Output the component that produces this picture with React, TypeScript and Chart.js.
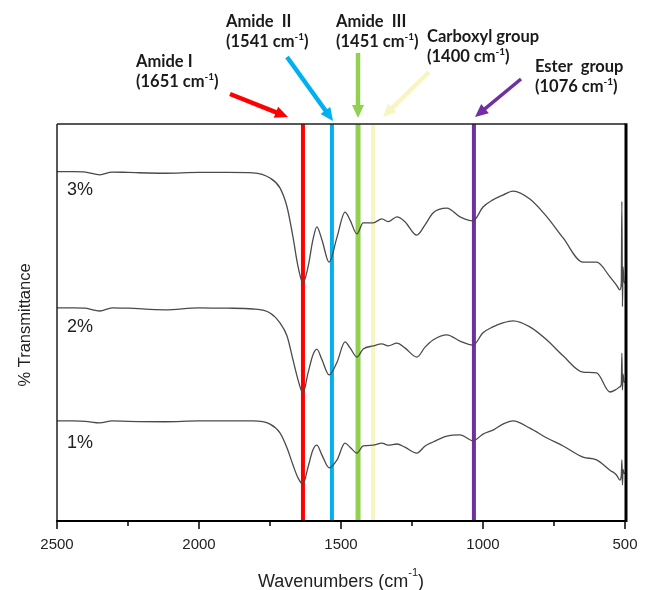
import React, { useEffect, useRef } from "react";
import { Chart, registerables } from "chart.js";

Chart.register(...registerables);

// ---- data (wavenumber in cm^-1, transmittance in arbitrary offset units) ----
const wavenumbers = [
  2500, 2440, 2400, 2349, 2306, 2250, 2120, 2000, 1900, 1810, 1750, 1715, 1690, 1669,
  1651, 1634, 1616, 1599, 1585, 1567, 1542, 1514, 1486, 1468, 1444, 1422, 1387, 1356,
  1334, 1303, 1275, 1233, 1204, 1176, 1127, 1081, 1035, 1000, 965, 930, 894, 835, 775,
  718, 648, 600, 553, 530, 518, 513, 511, 509, 507, 503, 500,
];

const trace3 = [
  88.0, 88.0, 87.9, 87.2, 87.9, 87.8, 87.6, 87.8, 87.8, 87.7, 86.4, 83.9, 79.1, 71.5,
  64.0, 59.9, 64.0, 70.8, 74.1, 70.8, 65.2, 71.5, 77.8, 75.8, 72.3, 75.1, 75.1, 76.1,
  75.4, 76.6, 75.4, 72.0, 74.6, 77.6, 78.8, 76.6, 75.6, 79.1, 80.9, 82.1, 83.1, 81.1, 76.6,
  71.3, 65.2, 65.2, 61.5, 59.4, 58.2, 60.0, 80.5, 54.0, 64.0, 60.0, 60.0,
];

const trace2 = [
  53.7, 53.7, 53.6, 52.9, 53.7, 53.6, 53.2, 53.7, 53.6, 53.4, 52.4, 49.9, 46.6, 40.6,
  35.5, 32.2, 37.3, 41.8, 43.3, 40.6, 36.8, 40.0, 45.1, 43.6, 41.3, 43.3, 44.1, 44.6,
  44.1, 44.8, 43.6, 41.3, 43.8, 45.6, 46.9, 45.3, 44.3, 47.4, 48.9, 49.9, 50.4, 48.9, 45.6,
  41.6, 37.5, 37.3, 32.5, 33.2, 33.8, 34.5, 42.3, 33.0, 37.0, 35.0, 35.0,
];

const trace1 = [
  25.2, 25.2, 25.1, 24.7, 25.2, 25.1, 25.0, 25.2, 25.2, 25.2, 24.4, 22.2, 18.4, 14.1,
  10.8, 9.3, 13.6, 17.9, 19.1, 16.6, 13.4, 15.4, 19.6, 18.6, 17.1, 18.9, 19.1, 19.6,
  19.1, 19.4, 18.6, 17.1, 18.9, 19.9, 21.4, 21.7, 20.2, 21.9, 22.9, 24.4, 25.2, 23.4, 20.9,
  18.9, 16.1, 15.4, 12.8, 11.6, 10.3, 11.5, 15.4, 9.1, 13.0, 12.0, 12.0,
];

const seriesLabels = ["3%", "2%", "1%"];

// marker (band) lines: drawn position, colour, annotation text
const markerPositions = [1634, 1532, 1440, 1387, 1032];
const markerColors = ["#ff0000", "#00b0f0", "#92d050", "#f7f5c2", "#7030a0"];
const markerNames = ["Amide I", "Amide  II", "Amide  III", "Carboxyl group", "Ester  group"];
const markerWavenumbers = ["1651", "1541", "1451", "1400", "1076"];

const xTickValues = [2500, 2250, 2000, 1750, 1500, 1250, 1000, 750, 500];

// ---- layout/styling for decorations (not data) ----
const annotationLayout = [
  { tx: 136, ty1: 62, ty2: 82, ax1: 230, ay1: 94, ax2: 288, ay2: 117, w: 4.5 },
  { tx: 226, ty1: 22, ty2: 42, ax1: 287, ay1: 57, ax2: 333, ay2: 121, w: 4.5 },
  { tx: 336, ty1: 22, ty2: 42, ax1: 358, ay1: 53, ax2: 358, ay2: 118, w: 4.5 },
  { tx: 427, ty1: 37, ty2: 57, ax1: 429, ay1: 72, ax2: 383, ay2: 117, w: 4.5 },
  { tx: 535, ty1: 67, ty2: 87, ax1: 521, ay1: 79, ax2: 475, ay2: 117, w: 3.5 },
];
const seriesLabelPos = [
  { x: 67, y: 190 },
  { x: 67, y: 327 },
  { x: 67, y: 443 },
];

const ANN_FONT = "bold 16.5px Lato, 'Open Sans', sans-serif";
const ANN_SUP_FONT = "bold 10px Lato, 'Open Sans', sans-serif";
const SANS = "'Liberation Sans', Arial, sans-serif";

function drawArrow(
  ctx: CanvasRenderingContext2D,
  x1: number, y1: number, x2: number, y2: number,
  color: string, width: number
) {
  const headLen = 13;
  const headW = 12;
  const ang = Math.atan2(y2 - y1, x2 - x1);
  const c = Math.cos(ang), s = Math.sin(ang);
  const bx = x2 - headLen * c, by = y2 - headLen * s;
  ctx.save();
  ctx.strokeStyle = color;
  ctx.fillStyle = color;
  ctx.lineWidth = width;
  ctx.lineCap = "butt";
  ctx.beginPath();
  ctx.moveTo(x1, y1);
  ctx.lineTo(bx + c, by + s);
  ctx.stroke();
  ctx.beginPath();
  ctx.moveTo(x2, y2);
  ctx.lineTo(bx - (headW / 2) * s, by + (headW / 2) * c);
  ctx.lineTo(bx + (headW / 2) * s, by - (headW / 2) * c);
  ctx.closePath();
  ctx.fill();
  ctx.restore();
}

function drawSup(
  ctx: CanvasRenderingContext2D, x: number, y: number,
  pre: string, sup: string, post: string,
  font: string, supFont: string, rise: number
) {
  ctx.textBaseline = "middle";
  ctx.textAlign = "left";
  ctx.font = font;
  ctx.fillText(pre, x, y);
  let w = ctx.measureText(pre).width;
  ctx.font = supFont;
  ctx.fillText(sup, x + w, y - rise);
  w += ctx.measureText(sup).width;
  ctx.font = font;
  ctx.fillText(post, x + w, y);
}

const decorPlugin = {
  id: "decor",
  afterDatasetsDraw(chart: any) {
    const { ctx, chartArea } = chart;
    const { left, right, top, bottom } = chartArea;
    const xs = chart.scales.x;
    ctx.save();
    // frame
    ctx.strokeStyle = "#222";
    ctx.lineWidth = 1.5;
    ctx.beginPath();
    ctx.moveTo(left, top);
    ctx.lineTo(right, top);
    ctx.moveTo(left, top);
    ctx.lineTo(left, bottom);
    ctx.stroke();
    ctx.strokeStyle = "#000";
    ctx.lineWidth = 2;
    ctx.beginPath();
    ctx.moveTo(left - 0.75, bottom);
    ctx.lineTo(right + 1.5, bottom);
    ctx.stroke();
    ctx.lineWidth = 3;
    ctx.beginPath();
    ctx.moveTo(right + 1, top - 0.75);
    ctx.lineTo(right + 1, bottom + 1);
    ctx.stroke();
    // tick marks
    ctx.lineWidth = 1.5;
    ctx.strokeStyle = "#000";
    xTickValues.forEach((v) => {
      const px = Math.round(xs.getPixelForValue(v));
      const len = v % 500 === 0 ? 8 : 5;
      ctx.beginPath();
      ctx.moveTo(px, bottom);
      ctx.lineTo(px, bottom + len);
      ctx.stroke();
    });
    ctx.restore();
  },
  afterDraw(chart: any) {
    const { ctx, chartArea } = chart;
    ctx.save();
    // annotations
    annotationLayout.forEach((a, i) => {
      ctx.fillStyle = "#1a1a1a";
      ctx.font = ANN_FONT;
      ctx.textBaseline = "middle";
      ctx.textAlign = "left";
      ctx.fillText(markerNames[i], a.tx, a.ty1);
      drawSup(ctx, a.tx, a.ty2, "(" + markerWavenumbers[i] + " cm", "-1", ")", ANN_FONT, ANN_SUP_FONT, 5);
      drawArrow(ctx, a.ax1, a.ay1, a.ax2, a.ay2, markerColors[i], a.w);
    });
    // series labels
    ctx.fillStyle = "#222";
    ctx.font = "18px " + SANS;
    ctx.textBaseline = "middle";
    ctx.textAlign = "left";
    seriesLabels.forEach((s, i) => ctx.fillText(s, seriesLabelPos[i].x, seriesLabelPos[i].y));
    // x-axis title
    ctx.fillStyle = "#222";
    const cx = (chartArea.left + chartArea.right) / 2;
    ctx.font = "18px " + SANS;
    const pre = "Wavenumbers (cm";
    const wPre = ctx.measureText(pre).width;
    ctx.font = "11px " + SANS;
    const wSup = ctx.measureText("-1").width;
    ctx.font = "18px " + SANS;
    const wPost = ctx.measureText(")").width;
    const total = wPre + wSup + wPost;
    drawSup(ctx, cx - total / 2, 582, pre, "-1", ")", "18px " + SANS, "11px " + SANS, 9);
    // y-axis title
    ctx.save();
    ctx.translate(25, 325);
    ctx.rotate(-Math.PI / 2);
    ctx.font = "16.5px " + SANS;
    ctx.textAlign = "center";
    ctx.textBaseline = "middle";
    ctx.fillText("% Transmittance", 0, 0);
    ctx.restore();
    ctx.restore();
  },
};

export default function App() {
  const ref = useRef<HTMLCanvasElement>(null);
  useEffect(() => {
    document.body.style.margin = "0";
    const canvas = ref.current!;
    const traceData = (vals: number[]) => wavenumbers.map((w, i) => ({ x: w, y: vals[i] }));
    const markerSets = markerPositions.map((p, i) => ({
      label: "m" + i,
      data: [{ x: p, y: 0 }, { x: p, y: 100 }],
      borderColor: markerColors[i],
      borderWidth: i === 2 ? 5 : 4,
      pointRadius: 0,
      tension: 0,
      order: 2,
    }));
    const traceSets = [trace3, trace2, trace1].map((t, i) => ({
      label: seriesLabels[i],
      data: traceData(t),
      borderColor: "#4a4a4a",
      borderWidth: 1.3,
      pointRadius: 0,
      cubicInterpolationMode: "monotone",
      order: 1,
    }));
    const chart = new Chart(canvas, {
      type: "line",
      data: { datasets: [...markerSets, ...traceSets] as any },
      options: {
        responsive: false,
        animation: false,
        devicePixelRatio: 1,
        layout: { padding: { left: 57, right: 30, top: 124, bottom: 0 } },
        plugins: { legend: { display: false }, tooltip: { enabled: false } },
        scales: {
          x: {
            type: "linear",
            reverse: true,
            min: 500,
            max: 2500,
            grid: { display: false, drawTicks: false, tickLength: 0 },
            border: { display: false },
            ticks: {
              stepSize: 250,
              autoSkip: false,
              maxRotation: 0,
              padding: 15,
              color: "#222",
              font: { family: SANS, size: 15 },
              callback: (v: any) => (Number(v) % 500 === 0 ? String(v) : ""),
            },
            afterFit: (s: any) => {
              s.height = 69;
            },
          },
          y: { display: false, min: 0, max: 100 },
        },
      },
      plugins: [decorPlugin],
    });
    return () => chart.destroy();
  }, []);
  return (
    <div style={{ position: "relative", width: 655, height: 590 }}>
      <canvas ref={ref} width={655} height={590} style={{ display: "block" }} />
    </div>
  );
}
